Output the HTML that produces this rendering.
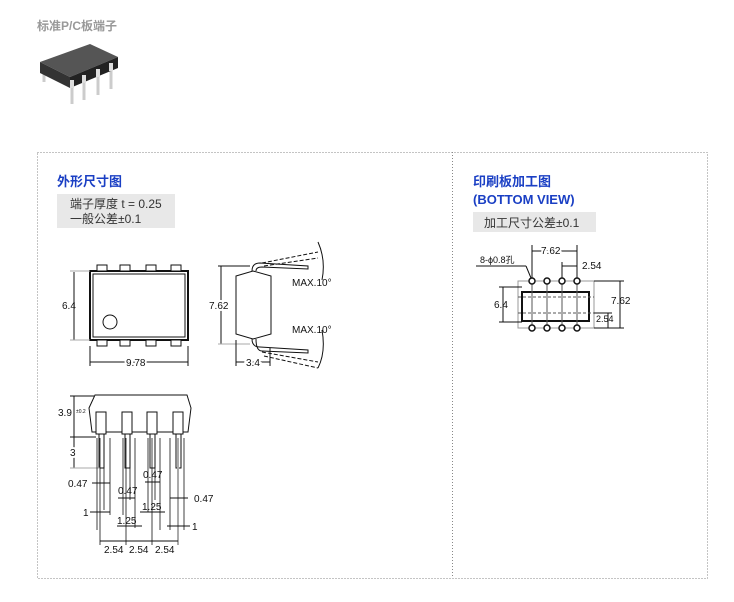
<!DOCTYPE html>
<html><head><meta charset="utf-8"><style>
body{margin:0;background:#fff;width:734px;height:602px;overflow:hidden;font-family:"Liberation Sans","Noto Sans CJK SC",sans-serif}
.t{position:absolute;white-space:nowrap}
</style></head><body>
<div class="t" style="left:37px;top:17px;font-size:12px;font-weight:bold;color:#999">标准P/C板端子</div>
<svg width="734" height="602" style="position:absolute;left:0;top:0" font-family="Liberation Sans, Noto Sans CJK SC, sans-serif">
<!-- chip photo -->
<g stroke="#ccc" stroke-width="3"><line x1="44" y1="72" x2="44" y2="82"/><line x1="72" y1="84" x2="72" y2="104"/><line x1="84" y1="78" x2="84" y2="100"/><line x1="98" y1="72" x2="98" y2="95"/><line x1="111" y1="66" x2="111" y2="89"/></g>
<polygon points="40,62 90,44 118,57 70,77" fill="#555"/>
<polygon points="40,62 70,77 70,88 40,73" fill="#333"/>
<polygon points="70,77 118,57 118,68 70,88" fill="#222"/>
<g fill="#ddd"><rect x="70" y="80" width="4" height="8"/><rect x="82" y="75" width="4" height="8"/><rect x="96" y="69" width="4" height="8"/><rect x="109" y="63" width="4" height="8"/></g>
<!-- frame -->
<rect x="37.5" y="152.5" width="670" height="426" fill="none" stroke="#888" stroke-dasharray="1,2"/>
<line x1="452.5" y1="152" x2="452.5" y2="578" stroke="#888" stroke-dasharray="1,2"/>
<rect x="57" y="194" width="118" height="34" fill="#e8e8e8"/>
<rect x="473" y="212" width="123" height="20" fill="#e8e8e8"/>
<text x="57" y="186" font-size="13" font-weight="bold" fill="#1a3fc4">外形尺寸图</text>
<text x="70" y="208" font-size="12" fill="#333">端子厚度 t = 0.25</text>
<text x="70" y="223" font-size="12" fill="#333">一般公差±0.1</text>
<text x="473" y="186" font-size="13" font-weight="bold" fill="#1a3fc4">印刷板加工图</text>
<text x="473" y="204" font-size="13" font-weight="bold" fill="#1a3fc4">(BOTTOM VIEW)</text>
<text x="484" y="227" font-size="12" fill="#333">加工尺寸公差±0.1</text>
<g fill="none" stroke="#111" stroke-width="1" font-size="10">
<rect x="90" y="271" width="98" height="69" stroke-width="2"/>
<rect x="93" y="274" width="92" height="63"/>
<g fill="#fff"><rect x="97" y="265" width="10" height="6"/><rect x="120" y="265" width="10" height="6"/><rect x="146" y="265" width="10" height="6"/><rect x="171" y="265" width="10" height="6"/>
<rect x="97" y="340" width="10" height="6"/><rect x="120" y="340" width="10" height="6"/><rect x="146" y="340" width="10" height="6"/><rect x="171" y="340" width="10" height="6"/></g>
<circle cx="110" cy="322" r="7"/>
<line x1="74" y1="272" x2="74" y2="340"/><line x1="70" y1="271" x2="90" y2="271" stroke="#aaa"/><line x1="70" y1="340" x2="90" y2="340" stroke="#aaa"/>
<line x1="90" y1="346" x2="90" y2="366"/><line x1="188" y1="346" x2="188" y2="366"/><line x1="90" y1="362" x2="188" y2="362"/>
<polygon points="236,276 253,271 271,276 271,334 253,339 236,334"/>
<path d="M252,271 Q252,263 260,263 L308,266 L308,269 L262,267 Q256,267 256,271"/>
<path d="M252,339 Q252,347 260,347 L308,350 L308,353 L262,351 Q256,351 256,339"/>
<path d="M262,263 L318,252 M264,266 L318,258" stroke-dasharray="4,2"/>
<path d="M262,352 L318,362 M264,356 L318,368" stroke-dasharray="4,2"/>
<path d="M318,242 Q326,260 322,280 M318,368 Q326,352 322,330"/>
<line x1="221" y1="266" x2="221" y2="344"/><line x1="218" y1="266" x2="250" y2="266"/><line x1="218" y1="344" x2="250" y2="344" stroke="#aaa"/>
<line x1="236" y1="340" x2="236" y2="366"/><line x1="270" y1="348" x2="270" y2="366"/><line x1="236" y1="362" x2="270" y2="362"/>
<polygon points="95,395 187,395 191,408 188,432 92,432 89,408"/>
<g fill="#fff"><rect x="96" y="412" width="10" height="22"/><rect x="122" y="412" width="10" height="22"/><rect x="147" y="412" width="10" height="22"/><rect x="173" y="412" width="10" height="22"/></g>
<rect x="99" y="434" width="5" height="34"/><rect x="125" y="434" width="5" height="34"/><rect x="150" y="434" width="5" height="34"/><rect x="176" y="434" width="5" height="34"/>
<line x1="74" y1="396" x2="74" y2="468"/><line x1="70" y1="396" x2="94" y2="396"/><line x1="70" y1="437" x2="96" y2="437"/><line x1="70" y1="468" x2="100" y2="468" stroke="#aaa"/>
<g stroke-width="0.8"><line x1="97" y1="438" x2="97" y2="530"/><line x1="100" y1="438" x2="100" y2="545"/><line x1="104" y1="438" x2="104" y2="510"/><line x1="110" y1="438" x2="110" y2="515"/>
<line x1="123" y1="438" x2="123" y2="515"/><line x1="126" y1="438" x2="126" y2="545"/><line x1="130" y1="438" x2="130" y2="500"/><line x1="135" y1="438" x2="135" y2="528"/>
<line x1="148" y1="438" x2="148" y2="512"/><line x1="152" y1="438" x2="152" y2="545"/><line x1="155" y1="438" x2="155" y2="500"/><line x1="160" y1="438" x2="160" y2="530"/>
<line x1="170" y1="438" x2="170" y2="530"/><line x1="178" y1="438" x2="178" y2="545" stroke="#aaa" stroke-width="2"/><line x1="184" y1="438" x2="184" y2="530"/></g>
<line x1="92" y1="483" x2="110" y2="483"/><line x1="118" y1="498" x2="135" y2="498"/><line x1="145" y1="482" x2="160" y2="482"/><line x1="170" y1="498" x2="188" y2="498"/>
<line x1="90" y1="512" x2="110" y2="512"/><line x1="140" y1="512" x2="165" y2="512"/><line x1="117" y1="526" x2="142" y2="526"/><line x1="167" y1="526" x2="190" y2="526"/>
<line x1="100" y1="541" x2="178" y2="541"/>
<rect x="518" y="281" width="76" height="47" stroke="#999"/>
<rect x="522" y="292" width="67" height="29" stroke-width="2"/>
<g stroke="#555"><line x1="532" y1="281" x2="532" y2="328"/><line x1="547" y1="281" x2="547" y2="328"/><line x1="562" y1="281" x2="562" y2="328"/><line x1="577" y1="281" x2="577" y2="328"/>
<line x1="518" y1="297" x2="594" y2="297" stroke-dasharray="3,2"/><line x1="518" y1="313" x2="594" y2="313" stroke-dasharray="3,2"/></g>
<g fill="#fff" stroke-width="1.5"><circle cx="532" cy="281" r="3"/><circle cx="547" cy="281" r="3"/><circle cx="562" cy="281" r="3"/><circle cx="577" cy="281" r="3"/>
<circle cx="532" cy="328" r="3"/><circle cx="547" cy="328" r="3"/><circle cx="562" cy="328" r="3"/><circle cx="577" cy="328" r="3"/></g>
<line x1="532" y1="245" x2="532" y2="278"/><line x1="577" y1="245" x2="577" y2="278"/><line x1="532" y1="251" x2="577" y2="251"/><line x1="562" y1="262" x2="562" y2="278"/><line x1="562" y1="266" x2="577" y2="266"/>
<line x1="476" y1="266" x2="526" y2="266"/><line x1="526" y1="266" x2="531" y2="278"/>
<line x1="503" y1="287" x2="503" y2="322"/><line x1="499" y1="287" x2="522" y2="287"/><line x1="499" y1="322" x2="522" y2="322"/>
<line x1="620" y1="281" x2="620" y2="328"/><line x1="594" y1="281" x2="624" y2="281"/><line x1="594" y1="328" x2="624" y2="328"/><line x1="594" y1="313" x2="612" y2="313"/><line x1="608" y1="313" x2="608" y2="328"/>
</g>
<g font-size="10" fill="#111">
<text x="62" y="309">6.4</text><text x="126" y="366" style="paint-order:stroke" stroke="#fff" stroke-width="4">9.78</text>
<text x="209" y="309" style="paint-order:stroke" stroke="#fff" stroke-width="4">7.62</text><text x="246" y="366" style="paint-order:stroke" stroke="#fff" stroke-width="4">3.4</text>
<text x="292" y="286">MAX.10°</text><text x="292" y="333">MAX.10°</text>
<text x="58" y="416" style="paint-order:stroke" stroke="#fff" stroke-width="4">3.9</text><text x="76" y="413" font-size="5">±0.2</text>
<text x="70" y="456" style="paint-order:stroke" stroke="#fff" stroke-width="4">3</text>
<text x="68" y="487">0.47</text><text x="118" y="494">0.47</text><text x="143" y="478">0.47</text><text x="194" y="502">0.47</text>
<text x="83" y="516">1</text><text x="142" y="510">1.25</text><text x="117" y="524">1.25</text><text x="192" y="530">1</text>
<text x="104" y="553">2.54</text><text x="129" y="553">2.54</text><text x="155" y="553">2.54</text>
<text x="541" y="254" style="paint-order:stroke" stroke="#fff" stroke-width="4">7.62</text><text x="582" y="269">2.54</text>
<text x="480" y="263" font-size="9">8-ϕ0.8孔</text>
<text x="494" y="308">6.4</text><text x="611" y="304">7.62</text><text x="596" y="322" font-size="9">2.54</text>
</g>
</svg>
</body></html>
